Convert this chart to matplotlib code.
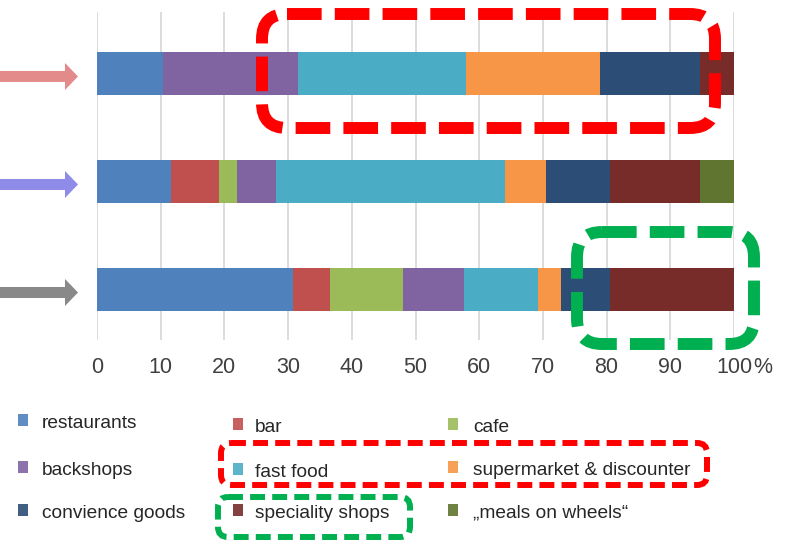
"""Stacked shares of food outlet types for three groups."""

import matplotlib
matplotlib.use('Agg')
import matplotlib.pyplot as plt
from matplotlib.patches import FancyArrow, FancyBboxPatch, Rectangle


CATEGORIES = ['restaurants', 'bar', 'cafe',
              'backshops', 'fast food', 'supermarket & discounter',
              'convience goods', 'speciality shops',
              '\u201emeals on wheels\u201c']
COLORS = ['#4F81BD', '#C0504D', '#9BBB59',
          '#8064A2', '#4BACC6', '#F79646',
          '#2C4D75', '#772C2A', '#5F7530']

# Share in % of each category, one list per bar (top to bottom).
TOP_BAR = [10.4, 0, 0, 21.1, 26.4, 21.0, 15.8, 5.3, 0]
MIDDLE_BAR = [11.6, 7.6, 2.7, 6.2, 36.0, 6.4, 10.1, 14.1, 5.3]
BOTTOM_BAR = [30.7, 5.8, 11.6, 9.5, 11.6, 3.7, 7.7, 19.4, 0]
ARROW_COLORS = ['#E38B8B', '#8E8CE8', '#898989']

X_TICKS = [0, 10, 20, 30, 40, 50, 60, 70, 80, 90, 100]

W, H = 788, 541
FONT = ['Liberation Sans', 'DejaVu Sans']


def DrawBars(ax, rows):
  positions = [2, 1, 0]
  for pos, values in zip(positions, rows):
    left = 0
    for value, color in zip(values, COLORS):
      if value > 0:
        ax.barh(pos, value, left=left, height=0.40, color=color,
                edgecolor='none', zorder=2)
      left += value
  ax.set_xlim(0, 100)
  ax.set_ylim(-0.4676, 2.569)
  ax.set_xticks(X_TICKS)
  ax.set_xticklabels([str(t) for t in X_TICKS], family=FONT, fontsize=15.5,
                     color='#404040')
  ax.annotate('%', xy=(100, 0), xycoords=('data', 'axes fraction'),
              xytext=(13.5, -12.3), textcoords='offset points',
              ha='left', va='top', family=FONT, fontsize=15.5, color='#404040')
  ax.tick_params(axis='x', length=0, pad=12)
  ax.set_yticks([])
  ax.grid(axis='x', color='#D9D9D9', linewidth=1.3, zorder=0)
  ax.set_axisbelow(True)
  for spine in ax.spines.values():
    spine.set_visible(False)
  return positions


def DashedBox(ov, x0, y0, x1, y1, color, lw, rounding, dashes):
  ov.add_patch(FancyBboxPatch(
      (x0, y0), x1 - x0, y1 - y0,
      boxstyle='round,pad=0,rounding_size=%g' % rounding,
      facecolor='none', edgecolor=color, linewidth=lw,
      linestyle=(0, dashes), capstyle='butt', zorder=6))


def main():
  fig = plt.figure(figsize=(W / 100., H / 100.), dpi=100)
  ax = fig.add_axes([97. / W, 1 - 340. / H, 637. / W, 328. / H])
  positions = DrawBars(ax, [TOP_BAR, MIDDLE_BAR, BOTTOM_BAR])

  # Overlay in figure pixels (y downwards) for arrows, legend and boxes.
  ov = fig.add_axes([0, 0, 1, 1], zorder=5)
  ov.set_xlim(0, W)
  ov.set_ylim(H, 0)
  ov.axis('off')
  ov.patch.set_alpha(0)

  for pos, color in zip(positions, ARROW_COLORS):
    yc = H - ax.transData.transform((0, pos))[1] + 3
    ov.add_patch(FancyArrow(0, yc, 78, 0, width=11, head_width=27,
                            head_length=13, length_includes_head=True,
                            color=color, linewidth=0))

  # Legend, three columns laid out row by row.
  marker_x = [18, 233, 448]
  text_x = [42, 255, 473]
  baselines = [[428, 432, 432], [475, 477, 475], [518, 518, 518]]
  for i, (label, color) in enumerate(zip(CATEGORIES, COLORS)):
    row, col = divmod(i, 3)
    base = baselines[row][col]
    ov.add_patch(Rectangle((marker_x[col], base - 14), 10, 12,
                           facecolor=color, edgecolor='none', alpha=0.9))
    ov.text(text_x[col], base, label, family=FONT, fontsize=13.8,
            color='#262626', ha='left', va='baseline')

  DashedBox(ov, 262, 14, 715, 128, '#FF0000', 8.6, 25, (2.9, 1.1))
  DashedBox(ov, 577, 232, 754, 344, '#00B050', 8.6, 25, (2.9, 1.1))
  DashedBox(ov, 221, 443, 707, 485, '#FF0000', 4.3, 10, (2.5, 1.2))
  DashedBox(ov, 218, 497, 410, 537, '#00B050', 4.3, 10, (2.5, 1.2))

  fig.savefig('out.png', dpi=100)


if __name__ == '__main__':
  main()
